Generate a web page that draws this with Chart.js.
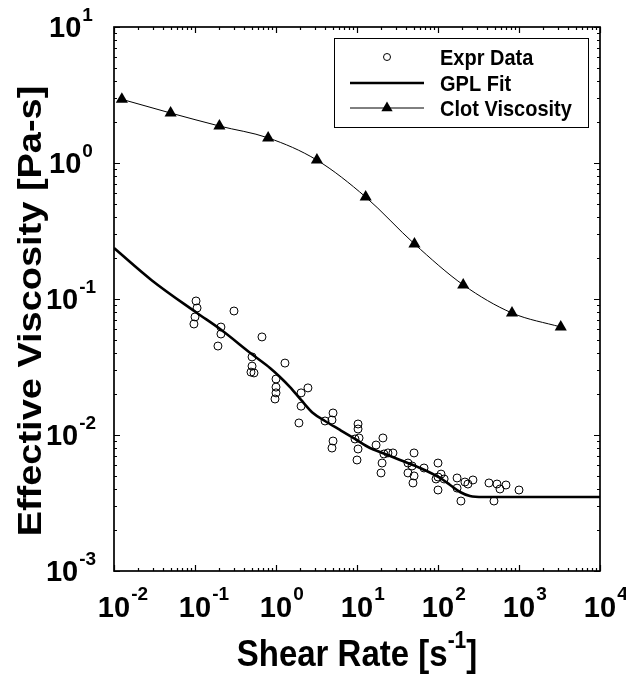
<!DOCTYPE html>
<html>
<head>
<meta charset="utf-8">
<script src="https://cdn.jsdelivr.net/npm/chart.js@4.4.1/dist/chart.umd.min.js"></script>
<style>
  html, body { margin: 0; padding: 0; background: #ffffff; }
  canvas { display: block; }
</style>
</head>
<body>
<canvas id="c" width="626" height="674"></canvas>
<script>
// ---------- data ----------
const exprShearRate = [0.103, 0.106, 0.100, 0.097, 0.303, 0.209, 0.209, 0.192, 0.671, 0.506,
  0.506, 0.491, 0.535, 1.00, 1.00, 1.00, 0.972, 1.29, 2.04, 2.48,
  2.04, 1.92, 5.06, 4.91, 4.03, 5.06, 4.91, 10.3, 10.3, 9.45,
  10.6, 10.3, 10.0, 17.2, 20.9, 21.5, 24.1, 27.8, 20.4, 19.8,
  50.6, 42.6, 47.8, 42.6, 50.6, 49.1, 67.2, 100, 109, 100,
  94.5, 119, 100, 172, 172, 192, 215, 234, 270, 426,
  535, 691, 582, 491, 1000];
const exprViscosity = [0.0967, 0.0859, 0.0738, 0.0655, 0.0816, 0.0622, 0.0553, 0.0451, 0.0526, 0.0375,
  0.0321, 0.0290, 0.0286, 0.0258, 0.0225, 0.0204, 0.0184, 0.0338, 0.0204, 0.0222,
  0.0163, 0.01226, 0.01452, 0.01289, 0.01268, 0.00903, 0.00802, 0.01205, 0.01107, 0.00935,
  0.00951, 0.00789, 0.00655, 0.00844, 0.00951, 0.00725, 0.00738, 0.00738, 0.00622, 0.00526,
  0.00738, 0.00622, 0.00592, 0.00526, 0.00500, 0.00444, 0.00572, 0.00622, 0.00516, 0.00491,
  0.00475, 0.00475, 0.00394, 0.00483, 0.00407, 0.00327, 0.00451, 0.00436, 0.00467, 0.00444,
  0.00436, 0.00429, 0.00401, 0.00327, 0.00394];

const gplShearRate = [0.01, 0.0294, 0.106, 0.204, 0.52, 0.843, 1.12, 1.49, 2.04,
  2.86, 4.03, 6.17, 9.45, 14.5, 19.2, 34.0, 60.0, 106, 141,
  187, 248, 360, 1028, 10000];
const gplViscosity = [0.237, 0.137, 0.0789, 0.0601, 0.0387, 0.0311, 0.0267, 0.0225, 0.0181,
  0.0145, 0.01268, 0.01089, 0.00935, 0.00802, 0.0075, 0.00655, 0.00572, 0.00483, 0.00429,
  0.00381, 0.00356, 0.0035, 0.0035, 0.0035];

const clotShearRate = [0.0125, 0.05, 0.2, 0.8, 3.2, 12.8, 51.2, 204.8, 819.2, 3276.8];
const clotViscosity = [2.94, 2.33, 1.87, 1.53, 1.05, 0.562, 0.254, 0.127, 0.0789, 0.0622];

const xTickExponents = [-2, -1, 0, 1, 2, 3, 4];
const yTickExponents = [-3, -2, -1, 0, 1];

const seriesNames = ['Expr Data', 'GPL Fit', 'Clot Viscosity'];
const xTitle = ['Shear Rate [s', '-1', ']'];
const yTitle = 'Effective Viscosity [Pa-s]';

// ---------- helpers ----------
const toPts = (xs, ys) => xs.map((x, i) => ({ x: x, y: ys[i] }));
const FONT = '"Liberation Sans", Arial, Helvetica, sans-serif';

const decor = {
  id: 'decor',
  afterDraw(chart) {
    const ctx = chart.ctx;
    const a = chart.chartArea;
    const xs = chart.scales.x, ys = chart.scales.y;
    ctx.save();
    ctx.strokeStyle = '#000';
    ctx.fillStyle = '#000';

    // box
    ctx.lineWidth = 1.7;
    ctx.strokeRect(a.left, a.top, a.right - a.left, a.bottom - a.top);

    // ticks (inward, all four sides)
    ctx.lineWidth = 1.2;
    ctx.beginPath();
    const xe0 = xTickExponents[0], xe1 = xTickExponents[xTickExponents.length - 1];
    for (let e = xe0; e <= xe1; e++) {
      for (let k = 1; k <= 9; k++) {
        if (e === xe1 && k > 1) break;
        const p = Math.round(xs.getPixelForValue(k * Math.pow(10, e))) + 0.5;
        const len = k === 1 ? 6 : 3;
        ctx.moveTo(p, a.bottom); ctx.lineTo(p, a.bottom - len);
        ctx.moveTo(p, a.top); ctx.lineTo(p, a.top + len);
      }
    }
    const ye0 = yTickExponents[0], ye1 = yTickExponents[yTickExponents.length - 1];
    for (let e = ye0; e <= ye1; e++) {
      for (let k = 1; k <= 9; k++) {
        if (e === ye1 && k > 1) break;
        const p = Math.round(ys.getPixelForValue(k * Math.pow(10, e))) + 0.5;
        const len = k === 1 ? 6 : 3;
        ctx.moveTo(a.left, p); ctx.lineTo(a.left + len, p);
        ctx.moveTo(a.right, p); ctx.lineTo(a.right - len, p);
      }
    }
    ctx.stroke();

    // tick labels
    const bigF = 'bold 29px ' + FONT, smallF = 'bold 19px ' + FONT;
    ctx.textBaseline = 'alphabetic';
    ctx.textAlign = 'left';
    xTickExponents.forEach(e => {
      const px = xs.getPixelForValue(Math.pow(10, e));
      ctx.font = bigF;
      const wB = ctx.measureText('10').width;
      ctx.fillText('10', px - wB / 2, 617);
      ctx.font = smallF;
      ctx.fillText(String(e), px + wB / 2 + 1, 600);
    });
    yTickExponents.forEach(e => {
      const py = ys.getPixelForValue(Math.pow(10, e));
      ctx.font = smallF;
      const wE = ctx.measureText(String(e)).width;
      ctx.font = bigF;
      const wB = ctx.measureText('10').width;
      const left = 71 - (wB + 1 + wE) / 2;
      ctx.fillText('10', left, py + 10.4);
      ctx.font = smallF;
      ctx.fillText(String(e), left + wB + 1, py - 6);
    });

    // x title (slightly tall lettering, as in the reference)
    ctx.save();
    const cx = (a.left + a.right) / 2;
    ctx.translate(0, 666);
    ctx.scale(1, 1.1);
    ctx.font = 'bold 33px ' + FONT;
    const w1 = ctx.measureText(xTitle[0]).width;
    const w3 = ctx.measureText(xTitle[2]).width;
    ctx.font = 'bold 21px ' + FONT;
    const w2 = ctx.measureText(xTitle[1]).width;
    let sx = cx - (w1 + w2 + w3) / 2;
    ctx.font = 'bold 33px ' + FONT;
    ctx.fillText(xTitle[0], sx, 0);
    ctx.font = 'bold 21px ' + FONT;
    ctx.fillText(xTitle[1], sx + w1, -16);
    ctx.font = 'bold 33px ' + FONT;
    ctx.fillText(xTitle[2], sx + w1 + w2, 0);
    ctx.restore();

    // y title (stretched along its length, as in the reference)
    ctx.save();
    ctx.translate(41, (a.top + a.bottom) / 2 + 12);
    ctx.rotate(-Math.PI / 2);
    ctx.scale(1.15, 1);
    ctx.font = 'bold 33px ' + FONT;
    ctx.textAlign = 'center';
    ctx.fillText(yTitle, 0, 0);
    ctx.restore();

    // legend
    ctx.fillStyle = '#fff';
    ctx.fillRect(334, 38, 254, 89);
    ctx.lineWidth = 1;
    ctx.strokeStyle = '#000';
    ctx.strokeRect(334.5, 38.5, 254, 89);
    ctx.fillStyle = '#000';
    const rows = [57, 83, 108];
    ctx.lineWidth = 1;
    ctx.beginPath(); ctx.arc(387, rows[0], 3.5, 0, Math.PI * 2); ctx.stroke();
    ctx.lineWidth = 2.6;
    ctx.beginPath(); ctx.moveTo(350, rows[1]); ctx.lineTo(424, rows[1]); ctx.stroke();
    ctx.lineWidth = 1;
    ctx.beginPath(); ctx.moveTo(350, rows[2]); ctx.lineTo(424, rows[2]); ctx.stroke();
    const r = 6.5;
    ctx.beginPath();
    ctx.moveTo(387, rows[2] - r);
    ctx.lineTo(387 + r * 0.866, rows[2] + r / 2);
    ctx.lineTo(387 - r * 0.866, rows[2] + r / 2);
    ctx.closePath(); ctx.fill();
    ctx.font = 'bold 20px ' + FONT;
    ctx.textAlign = 'left';
    ctx.textBaseline = 'alphabetic';
    seriesNames.forEach((n, i) => {
      ctx.save();
      ctx.translate(440, rows[i] + 8);
      ctx.scale(1, 1.12);
      ctx.fillText(n, 0, 0);
      ctx.restore();
    });
    ctx.restore();
  }
};

new Chart(document.getElementById('c'), {
  type: 'scatter',
  data: {
    datasets: [
      {
        label: seriesNames[0],
        data: toPts(exprShearRate, exprViscosity),
        showLine: false,
        pointStyle: 'circle',
        pointRadius: 4,
        pointBorderWidth: 1,
        pointBorderColor: '#000',
        pointBackgroundColor: 'rgba(0,0,0,0)',
        order: 3
      },
      {
        label: seriesNames[1],
        data: toPts(gplShearRate, gplViscosity),
        showLine: true,
        borderColor: '#000',
        borderWidth: 2.6,
        pointRadius: 0,
        cubicInterpolationMode: 'monotone',
        order: 2
      },
      {
        label: seriesNames[2],
        data: toPts(clotShearRate, clotViscosity),
        showLine: true,
        borderColor: '#000',
        borderWidth: 1,
        pointStyle: 'triangle',
        pointRadius: 7,
        pointBorderWidth: 0,
        pointBackgroundColor: '#000',
        pointBorderColor: '#000',
        cubicInterpolationMode: 'monotone',
        order: 1
      }
    ]
  },
  options: {
    responsive: false,
    animation: false,
    devicePixelRatio: 1,
    layout: { padding: { left: 114, right: 26, top: 27, bottom: 103 } },
    plugins: { legend: { display: false }, tooltip: { enabled: false } },
    scales: {
      x: { type: 'logarithmic', min: 0.01, max: 10000, display: false },
      y: { type: 'logarithmic', min: 0.001, max: 10, display: false }
    }
  },
  plugins: [decor]
});
</script>
</body>
</html>
